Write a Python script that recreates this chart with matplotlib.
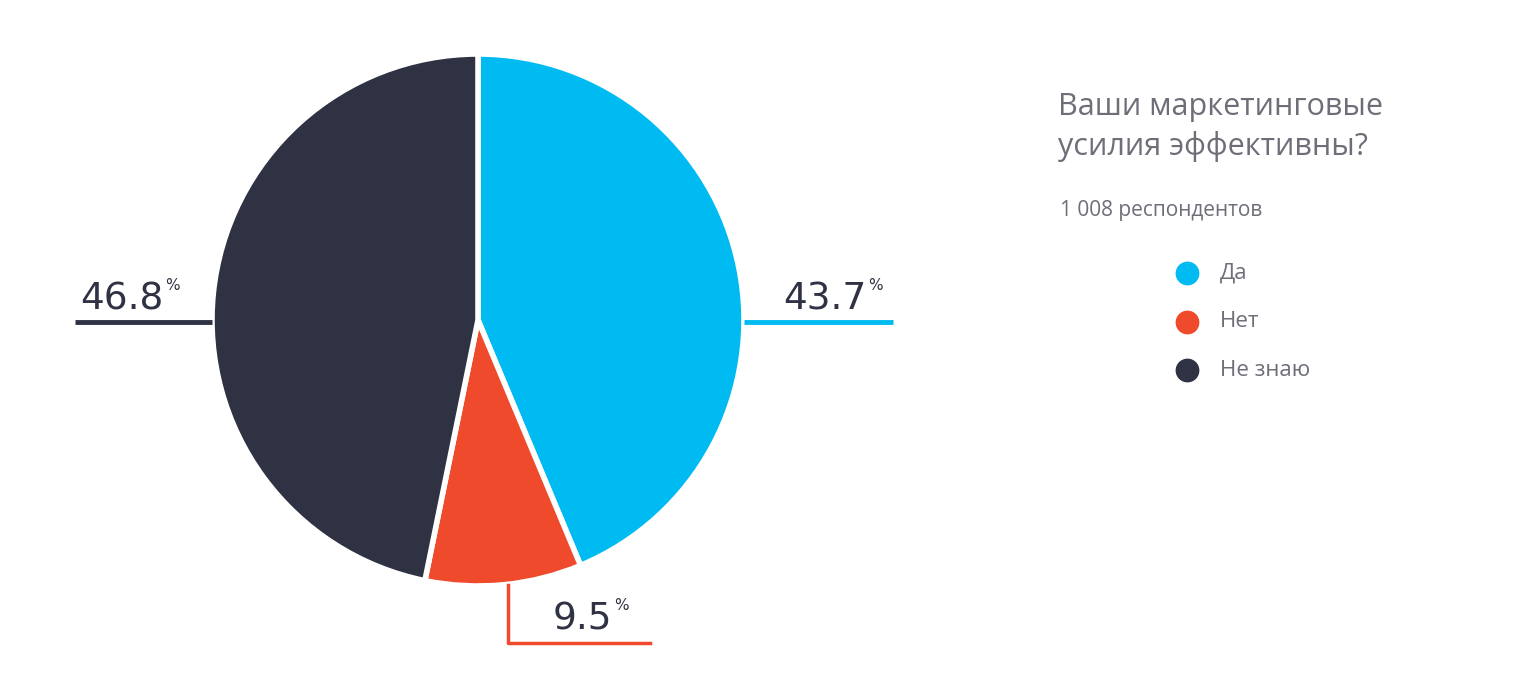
import matplotlib
matplotlib.use('Agg')
import matplotlib.pyplot as plt

labels = ['Да', 'Нет', 'Не знаю']
values = [43.7, 9.5, 46.8]
colors = ['#00BBF2', '#EE4A2B', '#2F3243']
title_lines = ['Ваши маркетинговые', 'усилия эффективны?']
subtitle = '1 008 респондентов'

W, H = 1526, 693
fig = plt.figure(figsize=(W / 100, H / 100), dpi=100)
ax = fig.add_axes([0, 0, 1, 1])
ax.set_xlim(0, W)
ax.set_ylim(0, H)
ax.set_aspect('equal')
ax.axis('off')

cx, cy, r = 478, H - 320, 266
ax.pie(values, colors=colors, startangle=90, counterclock=False,
       center=(cx, cy), radius=r, frame=True,
       wedgeprops={'edgecolor': 'white', 'linewidth': 4})
ax.set_xlim(0, W)
ax.set_ylim(0, H)
ax.axis('off')

txt = '#2F3243'
# leader lines
ax.plot([cx + r, 893], [H - 322, H - 322], color=colors[0], lw=3.5, solid_capstyle='butt')
ax.plot([75, cx - r], [H - 322, H - 322], color=colors[2], lw=3.5, solid_capstyle='butt')
ax.plot([508, 508, 650], [H - 585, H - 643, H - 643], color=colors[1], lw=2.5)

def pct(x, y, v):
    t = ax.text(x, y, f'{v}', fontsize=27, color=txt, ha='left', va='baseline', family='DejaVu Sans')
    fig.canvas.draw()
    bb = t.get_window_extent()
    ax.text(bb.x1 + 2, y + 20, '%', fontsize=11, color=txt, ha='left', va='baseline')

pct(783, H - 310, values[0])
pct(80, H - 310, values[2])
pct(553, H - 630, values[1])

gray = '#6D6E78'
ax.text(1058, H - 115, title_lines[0], fontsize=22, color=gray, family='Open Sans')
ax.text(1058, H - 155, title_lines[1], fontsize=22, color=gray, family='Open Sans')
ax.text(1060, H - 216, subtitle, fontsize=15, color=gray, family='Open Sans')

for i, (lab, c) in enumerate(zip(labels, colors)):
    y = H - (273 + i * 48.5)
    ax.scatter([1187], [y], s=260, color=c, zorder=3)
    ax.text(1220, y, lab, fontsize=16, color=gray, va='center', family='Open Sans')

fig.savefig('out.png', dpi=100, facecolor='white')
